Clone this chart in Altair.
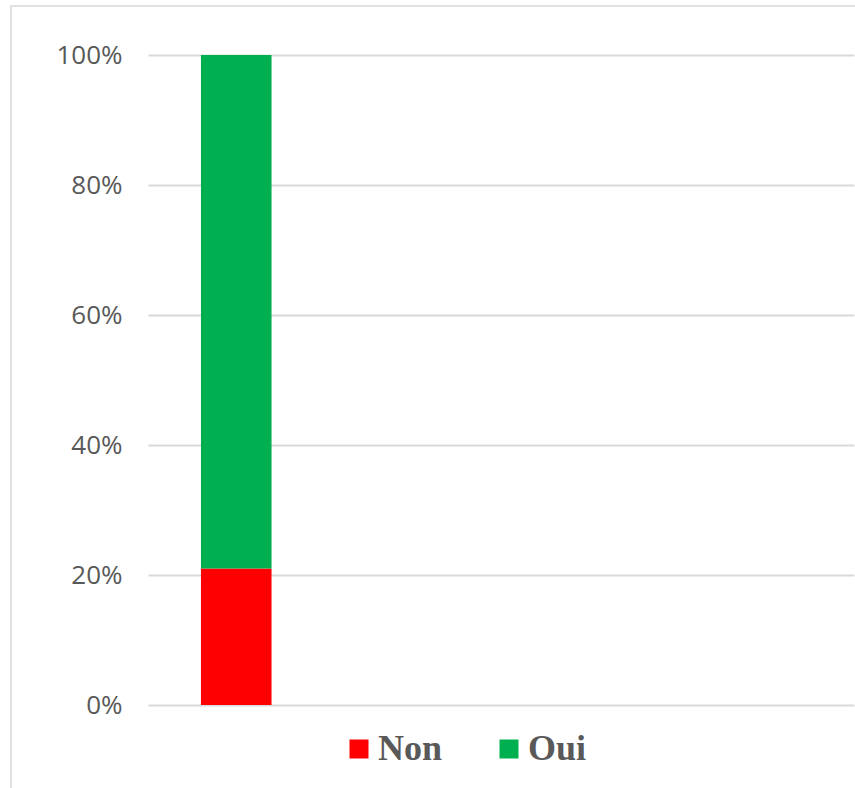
import altair as alt
import pandas as pd

categories = ["1", "2", "3", "4"]
series = ["Non", "Oui"]
values_non = [21, None, None, None]
values_oui = [79, None, None, None]
colors = ["#FF0000", "#00B050"]

rows = []
for i, c in enumerate(categories):
    if values_non[i] is not None:
        rows.append({"cat": c, "serie": "Non", "val": values_non[i], "ord": 0})
    if values_oui[i] is not None:
        rows.append({"cat": c, "serie": "Oui", "val": values_oui[i], "ord": 1})
df = pd.DataFrame(rows)

W, H = 706, 650

bars = alt.Chart(df).mark_bar().encode(
    x=alt.X("cat:N", scale=alt.Scale(domain=categories, paddingInner=0.6, paddingOuter=0.3), axis=None),
    y=alt.Y("val:Q", stack="normalize",
            scale=alt.Scale(domain=[0, 1]),
            axis=alt.Axis(format=".0%", values=[0, 0.2, 0.4, 0.6, 0.8, 1.0], title=None,
                          domain=False, ticks=False, labelPadding=26,
                          labelFont="Open Sans", labelFontSize=26, labelColor="#595959",
                          grid=True, gridColor="#D9D9D9", gridWidth=2)),
    color=alt.Color("serie:N", scale=alt.Scale(domain=series, range=colors),
                    legend=alt.Legend(title=None, orient="none", direction="horizontal",
                                      legendX=193, legendY=676,
                                      symbolType="square", symbolSize=361,
                                      symbolStrokeWidth=0, symbolOpacity=1,
                                      labelFont="Liberation Serif", labelFontWeight="bold",
                                      labelFontSize=36, labelColor="#595959",
                                      labelOffset=1, columnPadding=48, padding=0)),
    order=alt.Order("ord:Q", sort="ascending"),
)

frame = alt.Chart(pd.DataFrame({"a": [0]})).mark_rect(
    fill=None, stroke="#D9D9D9", strokeWidth=1.5
).encode(x=alt.value(-137), x2=alt.value(760), y=alt.value(-49), y2=alt.value(760))

chart = alt.layer(frame, bars).properties(
    width=W, height=H,
    autosize=alt.AutoSizeParams(type="none"),
    padding={"left": 148, "top": 55, "right": 1, "bottom": 83},
    background="white",
).configure_view(stroke=None)

chart.save("out.html", embed_options={"renderer": "svg", "actions": False})
